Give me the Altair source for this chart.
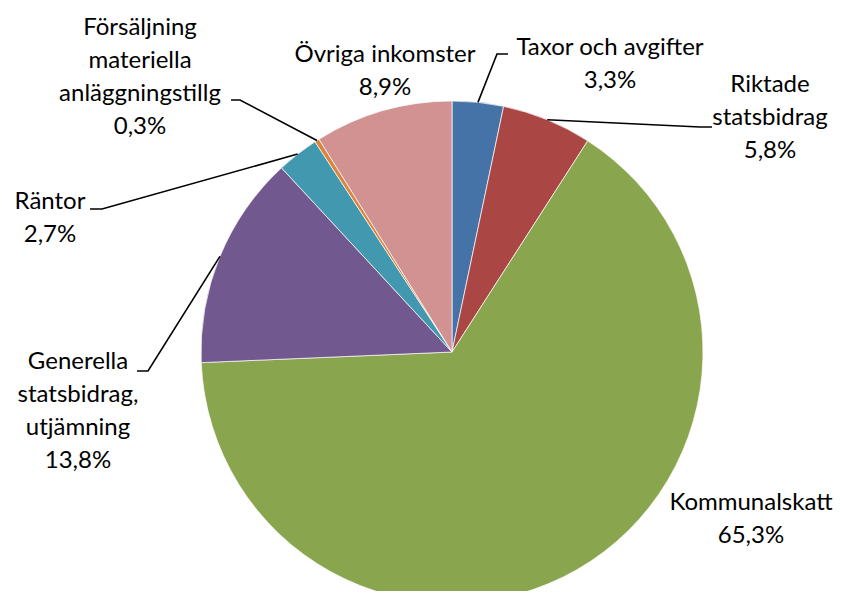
import math
import altair as alt
import pandas as pd

# ---- data ----
categories = [
    "Taxor och avgifter",
    "Riktade statsbidrag",
    "Kommunalskatt",
    "Generella statsbidrag, utjämning",
    "Räntor",
    "Försäljning materiella anläggningstillg",
    "Övriga inkomster",
]
values = [3.3, 5.8, 65.3, 13.8, 2.7, 0.3, 8.9]
label_lines = [
    ["Taxor och avgifter"],
    ["Riktade", "statsbidrag"],
    ["Kommunalskatt"],
    ["Generella", "statsbidrag,", "utjämning"],
    ["Räntor"],
    ["Försäljning", "materiella", "anläggningstillg"],
    ["Övriga inkomster"],
]
colors = ["#4572A7", "#AA4643", "#89A54E", "#71588F", "#4198AF", "#DB843D", "#D19291"]

# ---- layout (plot-area pixels) ----
CX, CY, R = 444, 344, 251
label_pos = {  # centre of first label line
    "Taxor och avgifter": (602, 40),
    "Riktade statsbidrag": (762, 77),
    "Kommunalskatt": (743, 495),
    "Generella statsbidrag, utjämning": (70, 354),
    "Räntor": (42, 194),
    "Försäljning materiella anläggningstillg": (132, 20),
    "Övriga inkomster": (377, 47),
}
leader = {  # elbow, end
    "Taxor och avgifter": [(489, 46), (500, 46)],
    "Riktade statsbidrag": [(692, 119), (704, 119)],
    "Generella statsbidrag, utjämning": [(140, 363), (129, 363)],
    "Räntor": [(94, 201), (82, 201)],
    "Försäljning materiella anläggningstillg": [(232, 92), (223, 92)],
}

total = sum(values)
df = pd.DataFrame({"cat": categories, "value": values, "order": range(len(values))})

# labels
lab_rows = []
for c, v, lines in zip(categories, values, label_lines):
    txt = "\n".join(lines + [f"{v:.1f}".replace(".", ",") + "%"])
    x, y = label_pos[c]
    lab_rows.append({"cat": c, "text": txt, "x": x, "y": y})
lab_df = pd.DataFrame(lab_rows)

# leader lines: start at slice mid-angle on rim
line_rows = []
cum = 0.0
for c, v in zip(categories, values):
    mid = (cum + v / 2) / total * 2 * math.pi
    cum += v
    if c not in leader:
        continue
    sx = CX + R * math.sin(mid)
    sy = CY - R * math.cos(mid)
    pts = [(sx, sy)] + leader[c]
    for i, (px, py) in enumerate(pts):
        line_rows.append({"cat": c, "i": i, "x": px, "y": py})
line_df = pd.DataFrame(line_rows)

pie = alt.Chart(df).mark_arc(
    radius=R, stroke="#ffffff", strokeWidth=0.7
).encode(
    theta=alt.Theta("value:Q", stack=True),
    order=alt.Order("order:Q"),
    color=alt.Color("cat:N", scale=alt.Scale(domain=categories, range=colors), legend=None),
    x=alt.value(CX),
    y=alt.value(CY),
)

lines = alt.Chart(line_df).mark_line(color="#000000", strokeWidth=1.6).encode(
    x=alt.X("x:Q", scale=None),
    y=alt.Y("y:Q", scale=None),
    detail="cat:N",
    order="i:Q",
)

texts = alt.Chart(lab_df).mark_text(
    font="Lato", fontSize=24, lineBreak="\n", lineHeight=33,
    align="center", baseline="middle", color="#000000",
).encode(
    x=alt.X("x:Q", scale=None),
    y=alt.Y("y:Q", scale=None),
    text="text:N",
)

chart = alt.layer(pie, lines, texts).properties(
    width=825, height=583, padding=0, autosize=alt.AutoSizeParams(type="none")
).configure_view(stroke=None)

chart.save("out.html", embed_options={"renderer": "svg", "actions": False})
